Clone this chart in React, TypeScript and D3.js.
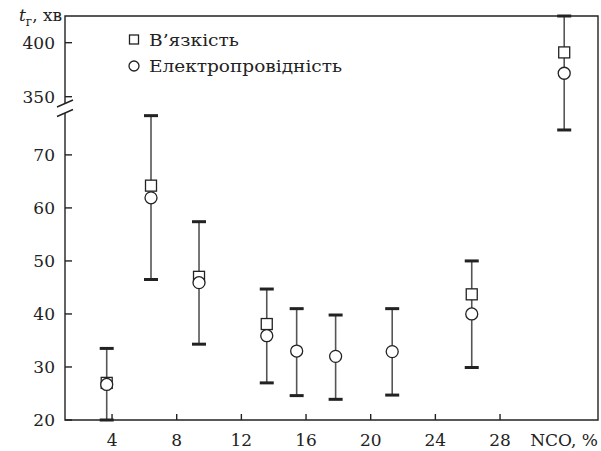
import React, { useEffect, useRef } from 'react';
import * as d3 from 'd3';

// NCO content, %
const nco = [3.67, 6.41, 9.38, 13.57, 15.42, 17.83, 21.33, 26.25, 31.97];
// gel time by viscosity (squares), null where not measured
const viscosity = [27.0, 64.2, 47.0, 38.1, null, null, null, 43.7, 391];
// gel time by conductivity (circles)
const conductivity = [26.7, 61.9, 45.9, 35.9, 33.0, 32.0, 32.9, 40.0, 371.7];
const errLow = [20.0, 46.5, 34.3, 27.0, 24.6, 23.9, 24.7, 29.9, 74.7];
const errHigh = [33.5, 77.4, 57.4, 44.7, 41.0, 39.8, 41.0, 50.0, 424.7];

const xTicks = [4, 8, 12, 16, 20, 24, 28];
const yTicksLow = [20, 30, 40, 50, 60, 70];
const yTicksHigh = [350, 400];
const legendLabels = ['В’язкість', 'Електропровідність'];

const W = 601;
const H = 451;
const left = 65, right = 598, top = 16, bottom = 420;
const breakLow = 113, breakHigh = 103.5;
const FONT = 'DejaVu Serif';
const FS = 17;

export default function App() {
  const ref = useRef<SVGSVGElement>(null);

  useEffect(() => {
    const svg = d3.select(ref.current);
    svg.selectAll('*').remove();

    const x = d3.scaleLinear().domain([1.09, 34.06]).range([left, right]);
    const yLow = d3.scaleLinear().domain([20, 77.9]).range([bottom, breakLow]);
    const yHigh = d3.scaleLinear().domain([343.7, 424.7]).range([breakHigh, top]);
    const y = (v: number) => (v < 200 ? yLow(v) : yHigh(v));

    const g = svg.append('g');

    // frame
    g.append('path')
      .attr('d', `M${left},${breakHigh} V${top} H${right} V${bottom} H${left} V${breakLow}`)
      .attr('fill', 'none')
      .attr('stroke', '#222')
      .attr('stroke-width', 1.4);

    // break marks
    [breakHigh, breakLow].forEach(b => {
      g.append('line')
        .attr('x1', left - 8).attr('y1', b + 3.5)
        .attr('x2', left + 8).attr('y2', b - 3.5)
        .attr('stroke', '#222').attr('stroke-width', 1.4);
    });

    // x ticks
    xTicks.forEach(t => {
      g.append('line')
        .attr('x1', x(t)).attr('x2', x(t))
        .attr('y1', bottom).attr('y2', bottom - 6)
        .attr('stroke', '#222').attr('stroke-width', 1.4);
      g.append('text')
        .attr('x', x(t)).attr('y', bottom + 26)
        .attr('text-anchor', 'middle')
        .attr('font-family', FONT).attr('font-size', FS)
        .attr('fill', '#222')
        .text(t);
    });

    // y ticks
    const yTickAll = [
      ...yTicksLow.map(t => ({ t, py: yLow(t) })),
      ...yTicksHigh.map(t => ({ t, py: yHigh(t) })),
    ];
    yTickAll.forEach(({ t, py }) => {
      g.append('line')
        .attr('x1', left).attr('x2', left + 7)
        .attr('y1', py).attr('y2', py)
        .attr('stroke', '#222').attr('stroke-width', 1.4);
      g.append('text')
        .attr('x', left - 10).attr('y', py + 6.3)
        .attr('text-anchor', 'end')
        .attr('font-family', FONT).attr('font-size', FS)
        .attr('fill', '#222')
        .text(t);
    });

    // axis labels
    const yl = g.append('text')
      .attr('x', 19).attr('y', 21)
      .attr('font-family', FONT).attr('font-size', FS)
      .attr('fill', '#222');
    yl.append('tspan').attr('font-style', 'italic').text('t');
    yl.append('tspan').attr('font-size', 12).attr('dy', 5).text('г');
    yl.append('tspan').attr('dy', -5).text(', хв');

    g.append('text')
      .attr('x', right).attr('y', bottom + 26)
      .attr('text-anchor', 'end')
      .attr('font-family', FONT).attr('font-size', FS)
      .attr('fill', '#222')
      .text('NCO, %');

    // error bars
    nco.forEach((v, i) => {
      const px = x(v);
      g.append('line')
        .attr('x1', px).attr('x2', px)
        .attr('y1', y(errLow[i])).attr('y2', y(errHigh[i]))
        .attr('stroke', '#555').attr('stroke-width', 1.6);
      [errLow[i], errHigh[i]].forEach(e => {
        g.append('line')
          .attr('x1', px - 7).attr('x2', px + 7)
          .attr('y1', y(e)).attr('y2', y(e))
          .attr('stroke', '#222').attr('stroke-width', 3);
      });
    });

    // squares
    nco.forEach((v, i) => {
      const val = viscosity[i];
      if (val == null) return;
      g.append('rect')
        .attr('x', x(v) - 5.5).attr('y', y(val) - 5.5)
        .attr('width', 11).attr('height', 11)
        .attr('fill', 'white').attr('stroke', '#222').attr('stroke-width', 1.3);
    });

    // circles
    nco.forEach((v, i) => {
      g.append('circle')
        .attr('cx', x(v)).attr('cy', y(conductivity[i]))
        .attr('r', 6)
        .attr('fill', 'white').attr('stroke', '#222').attr('stroke-width', 1.3);
    });

    // legend
    g.append('rect')
      .attr('x', 129.5).attr('y', 35).attr('width', 9).attr('height', 9)
      .attr('fill', 'white').attr('stroke', '#222').attr('stroke-width', 1.3);
    g.append('circle')
      .attr('cx', 134).attr('cy', 66).attr('r', 5)
      .attr('fill', 'white').attr('stroke', '#222').attr('stroke-width', 1.3);
    const lens = [90, 193];
    legendLabels.forEach((l, i) => {
      g.append('text')
        .attr('x', 149).attr('y', 46 + i * 26)
        .attr('font-family', FONT).attr('font-size', FS)
        .attr('fill', '#222')
        .attr('textLength', lens[i])
        .attr('lengthAdjust', 'spacingAndGlyphs')
        .text(l);
    });
  }, []);

  return (
    <svg
      ref={ref}
      width={W}
      height={H}
      viewBox={`0 0 ${W} ${H}`}
      style={{ position: 'absolute', left: 0, top: 0, background: 'white' }}
    />
  );
}
